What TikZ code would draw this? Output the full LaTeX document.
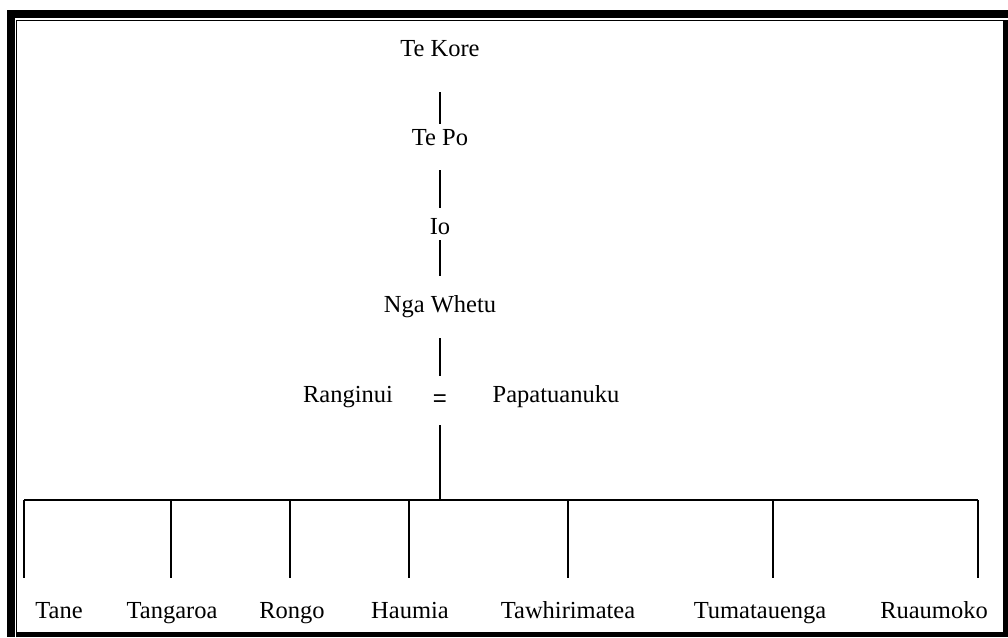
\documentclass[tikz,border=0pt]{standalone}
\usepackage{fontspec}
\setmainfont{Liberation Serif}
\newfontfamily\eqfont{Liberation Sans}
\usetikzlibrary{calc}
\begin{document}
\begin{tikzpicture}[x=1pt,y=-1pt,
  lbl/.style={inner sep=0pt,anchor=base,font=\fontsize{24.5}{28}\selectfont},
  link/.style={line width=1.4pt}]
\useasboundingbox (0,0) rectangle (1008,637);
% page border
\fill[black] (7,10) rectangle (15,637);
\fill[black] (7,10) rectangle (1008,18);
\fill[black] (1003,20) rectangle (1008,637);
\fill[black] (16,631.5) rectangle (1008,637);
\draw[line width=1.2pt] (16.8,637) -- (16.8,20.6) -- (1003,20.6);
% lineage
\node[lbl] (tekore) at (440,56) {Te Kore};
\node[lbl] (tepo) at (440,145) {Te Po};
\node[lbl] (io) at (440,234) {Io};
\node[lbl] (whetu) at (440,312) {Nga Whetu};
\node[lbl] (rangi) at (348,402) {Ranginui};
\node[lbl,font=\eqfont\fontsize{24}{28}\selectfont] (eq) at (440,406) {=};
\node[lbl] (papa) at (556,402) {Papatuanuku};
\draw[link] ($(tekore.base)+(0,36)$) -- ($(tepo.base)+(0,-21)$);
\draw[link] ($(tepo.base)+(0,25)$) -- ($(io.base)+(0,-26)$);
\draw[link] ($(io.base)+(0,6)$) -- ($(whetu.base)+(0,-36)$);
\draw[link] ($(whetu.base)+(0,26)$) -- ($(eq.base)+(0,-30)$);
\coordinate (junc) at (440,500);
\draw[link] ($(eq.base)+(0,19)$) -- (junc);
% children
\coordinate (b1) at (24,500);
\coordinate (b2) at (171,500);
\coordinate (b3) at (290,500);
\coordinate (b4) at (409,500);
\coordinate (b5) at (568,500);
\coordinate (b6) at (773,500);
\coordinate (b7) at (978,500);
\draw[link] (b1) -- (b7);
\foreach \b in {b1,b2,b3,b4,b5,b6,b7} \draw[link] (\b) -- ++(0,78);
\node[lbl] (tane) at (59,618) {Tane};
\node[lbl] (tangaroa) at (172,618) {Tangaroa};
\node[lbl] (rongo) at (292,618) {Rongo};
\node[lbl] (haumia) at (410,618) {Haumia};
\node[lbl] (tawhiri) at (568,618) {Tawhirimatea};
\node[lbl] (tuma) at (760,618) {Tumatauenga};
\node[lbl] (ruau) at (934,618) {Ruaumoko};
\end{tikzpicture}
\end{document}
